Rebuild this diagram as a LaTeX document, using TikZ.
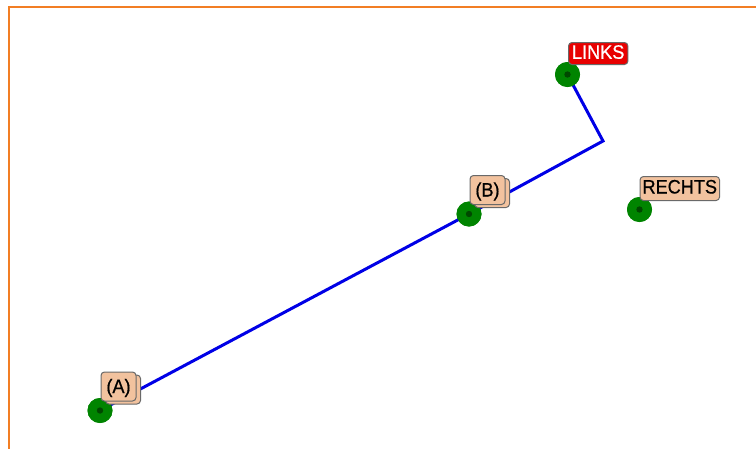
\documentclass[tikz,border=0pt]{standalone}
\usepackage{fontspec}
\setmainfont{Liberation Sans}[FakeStretch=0.93,FakeBold=0.6]
\usetikzlibrary{shadows}
\definecolor{frameorange}{RGB}{242,126,36}
\definecolor{dotgreen}{RGB}{0,132,0}
\definecolor{dotcore}{RGB}{0,72,0}
\definecolor{pathblue}{RGB}{0,0,230}
\definecolor{peach}{RGB}{242,194,158}
\definecolor{boxgray}{RGB}{105,105,105}
\definecolor{tagred}{RGB}{232,0,0}
\tikzset{
  pin dot/.style={circle, fill=dotgreen, draw=none, minimum size=25pt, inner sep=0pt},
  tagbox/.style={rounded corners=3.5pt, draw=boxgray, line width=1pt, fill=peach,
    font=\fontsize{19.5}{21}\selectfont, text=black, anchor=south west,
    inner xsep=2.5pt, inner ysep=0pt, text height=14.5pt, text depth=4.5pt, minimum height=24pt},
  redtag/.style={tagbox, fill=tagred, text=white, minimum height=22pt, text height=14pt, text depth=3.5pt, inner xsep=3.5pt},
  stacktag/.style={tagbox, minimum width=35pt, minimum height=29pt, text height=16pt, text depth=3pt,
    general shadow={shadow xshift=4.5pt, shadow yshift=-3pt, fill=peach, draw=boxgray, line width=1pt}},
  route/.style={draw=pathblue, line width=3pt, line join=miter}
}
\begin{document}
\begin{tikzpicture}[x=1pt, y=-1pt]
\useasboundingbox (0,0) rectangle (756,448);
\clip (0,0) rectangle (756,448);
\fill[white] (0,0) rectangle (756,448);
\draw[frameorange, line width=2pt] (8.5,6.5) rectangle (800,500);
% dots
\node[pin dot] (A) at (100,410.5) {};
\node[pin dot] (B) at (469,214) {};
\node[pin dot] (L) at (567.5,74.5) {};
\node[pin dot] (R) at (639.5,209.5) {};
\coordinate (K) at (603,141);
% route
\draw[route] (A.center) -- (B.center) -- (K) -- (L.center);
% redraw dots above the route
\foreach \n in {A,B,L,R}{
  \fill[dotgreen] (\n.center) circle (12.5pt);
  \fill[dotcore] (\n.center) circle (3.2pt);
}
% labels
\node[stacktag] (tA) at ([shift={(0.5,-9)}]A.center) {(A)};
\node[stacktag] (tB) at ([shift={(0.5,-9)}]B.center) {(B)};
\node[redtag] (tL) at ([shift={(0.5,-9.5)}]L.center) {LINKS};
\node[tagbox] (tR) at ([shift={(0,-8.5)}]R.center) {RECHTS};
\end{tikzpicture}
\end{document}
